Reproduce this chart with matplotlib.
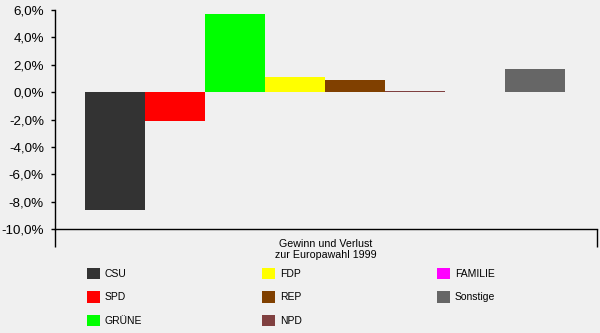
import numpy as np
import matplotlib.pyplot as plt
from matplotlib.patches import Patch
from matplotlib.ticker import FuncFormatter

# Gewinn / Verlust in Prozentpunkten
parteien = ['CSU', 'SPD', 'GRÜNE', 'FDP', 'REP', 'NPD', 'FAMILIE', 'Sonstige']
werte = [-8.6, -2.1, 5.7, 1.1, 0.9, 0.1, 0.0, 1.7]
farben = ['#333333', '#ff0000', '#00ff00', '#ffff00', '#804000', '#804040', '#ff00ff', '#666666']
kategorie = 'Gewinn und Verlust\nzur Europawahl 1999'
y_ticks = [-10, -8, -6, -4, -2, 0, 2, 4, 6]

plt.rcParams['font.family'] = ['Liberation Sans', 'DejaVu Sans']
plt.rcParams['font.size'] = 7.5

bg = '#f0f0f0'
fig = plt.figure(figsize=(6.0, 3.33), dpi=100, facecolor=bg)
ax = fig.add_axes([55/600, 1 - 229/333, (597 - 55)/600, (229 - 10)/333])
ax.set_facecolor(bg)

x = np.arange(len(parteien))
ax.bar(x, werte, width=1.0, color=farben, linewidth=0)

x0, x1 = -1.0, len(parteien) + 0.03
ax.set_xlim(x0, x1)
ax.set_ylim(-10, 6)

ax.set_yticks(y_ticks)
ax.yaxis.set_major_formatter(FuncFormatter(lambda v, p: ('%.1f%%' % v).replace('.', ',')))
ax.tick_params(axis='y', length=3, width=1, pad=5, labelsize=9.6)

# category label in the middle, bracket ticks at both ends
ax.set_xticks([(x0 + x1) / 2], [kategorie])
ax.set_xticks([x0, x1], minor=True)
ax.tick_params(axis='x', which='major', length=0, pad=7, labelsize=7.7)
ax.tick_params(axis='x', which='minor', length=13, width=1)

for s in ['top', 'right']:
    ax.spines[s].set_visible(False)
for s in ['left', 'bottom']:
    ax.spines[s].set_linewidth(1)

# legend in three columns
col_x = [87, 262, 437]
for c in range(3):
    idx = range(c * 3, min(c * 3 + 3, len(parteien)))
    handles = [Patch(facecolor=farben[i], edgecolor='none', label=parteien[i]) for i in idx]
    fig.legend(handles=handles, loc='upper left', bbox_to_anchor=(col_x[c]/600, 1 - 268/333),
               frameon=False, borderpad=0, borderaxespad=0, handlelength=1.2, handleheight=1.3,
               handletextpad=0.5, labelspacing=1.15, fontsize=7.5)

fig.savefig('out.png', dpi=100, facecolor=bg)
